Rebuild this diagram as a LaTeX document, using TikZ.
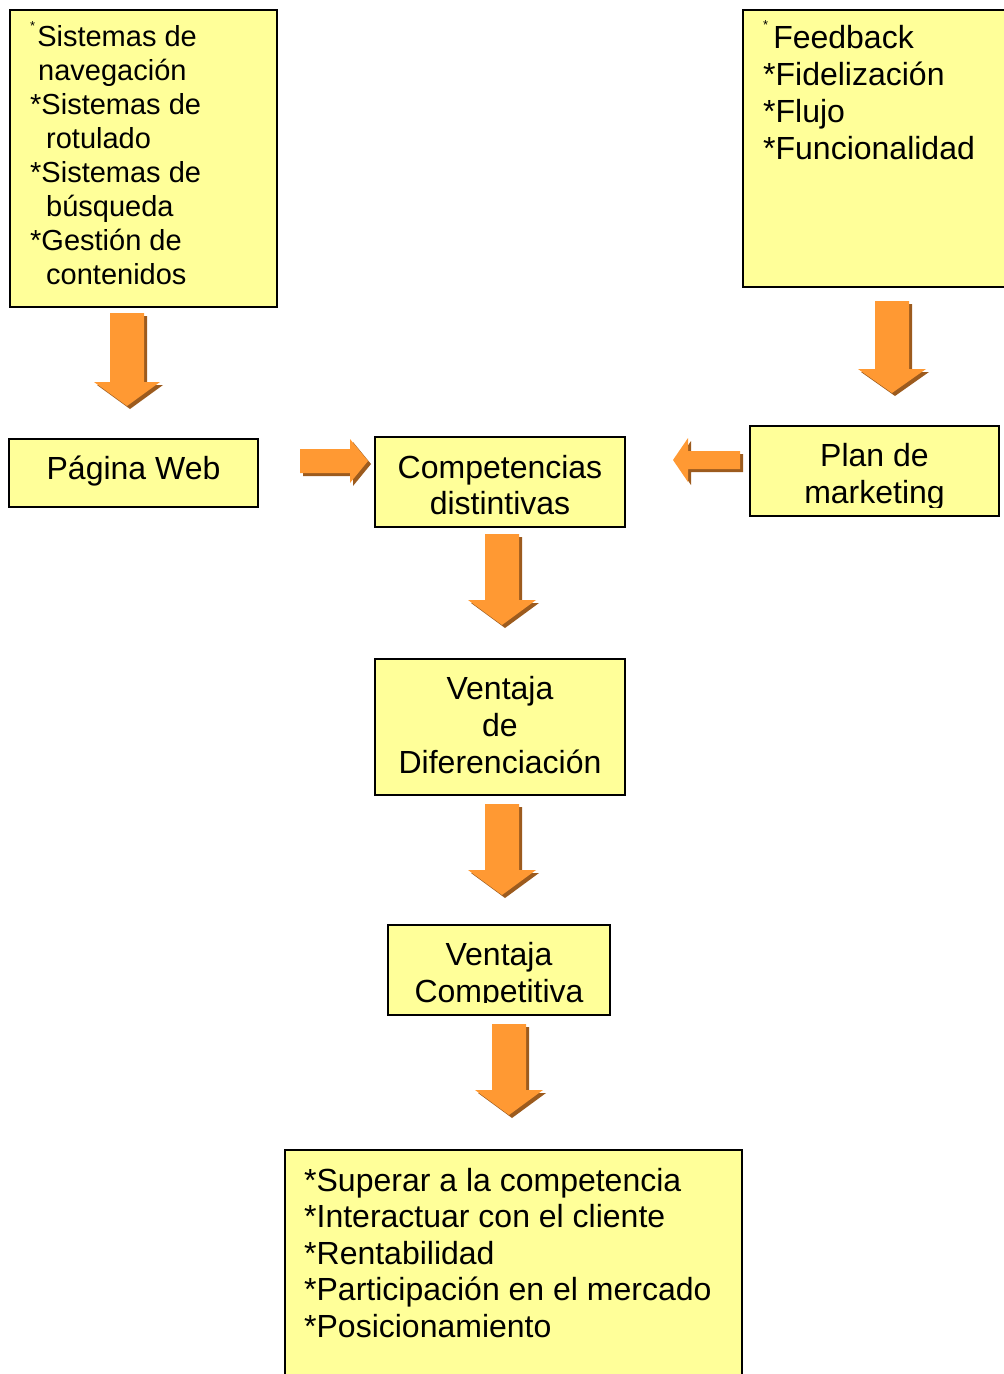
\documentclass[tikz,border=0pt]{standalone}
\usepackage{fontspec}
\setmainfont{Liberation Sans}
\definecolor{boxyellow}{HTML}{FFFF99}
\definecolor{arrorange}{HTML}{FF9933}
\definecolor{arrshade}{HTML}{9C5B1E}
\tikzset{
  panel/.style={draw=black, line width=2pt, fill=boxyellow, inner sep=0pt},
  lbl/.style={inner sep=0pt, align=center, font=\fontsize{32}{36.8}\selectfont},
  list/.style={inner sep=0pt, align=left, anchor=north west, font=\fontsize{32}{37}\selectfont},
}
% block arrow pointing down: centre x, top y, tip y, shaft half-width, head half-width, head length
\newcommand{\downpoly}[6]{({#1-#4},#2) -- ({#1+#4},#2) -- ({#1+#4},{#3-#6}) -- ({#1+#5},{#3-#6}) -- (#1,#3) -- ({#1-#5},{#3-#6}) -- ({#1-#4},{#3-#6}) -- cycle}
\newcommand{\arrdown}[6]{%
  \fill[arrshade, xshift=3pt, yshift=-3pt] \downpoly{#1}{#2}{#3}{#4}{#5}{#6};
  \fill[arrorange] \downpoly{#1}{#2}{#3}{#4}{#5}{#6};}
% horizontal block arrow: tail x, centre y, tip x, shaft half-height, head half-height, signed head length
\newcommand{\sidepoly}[6]{(#1,{#2-#4}) -- ({#3-#6},{#2-#4}) -- ({#3-#6},{#2-#5}) -- (#3,#2) -- ({#3-#6},{#2+#5}) -- ({#3-#6},{#2+#4}) -- (#1,{#2+#4}) -- cycle}
\newcommand{\arrside}[6]{%
  \fill[arrshade, xshift=3pt, yshift=-3pt] \sidepoly{#1}{#2}{#3}{#4}{#5}{#6};
  \fill[arrorange] \sidepoly{#1}{#2}{#3}{#4}{#5}{#6};}
% small raised asterisk opening a list: raise amount (does not change the line height)
\newcommand{\smallstar}[1]{\smash{\fontsize{13}{13}\selectfont\raisebox{#1}{*}}}
\begin{document}
\begin{tikzpicture}[x=1pt, y=-1pt]
\useasboundingbox (0,0) rectangle (1004,1374);
\clip (0,0) rectangle (1004,1374);

% top left: information architecture systems
\node[panel, anchor=north west, minimum width=267pt, minimum height=297pt] (nav) at (9,9) {};
\node[list, font=\fontsize{29}{34.1}\selectfont] (navtxt) at (30,25) {%
  \smallstar{16pt}\hspace{2pt}Sistemas de\\
  \hspace*{8pt}navegación\\
  *Sistemas de\\
  \hspace*{16pt}rotulado\\
  *Sistemas de\\
  \hspace*{16pt}búsqueda\\
  *Gestión de\\
  \hspace*{16pt}contenidos};

% top right: marketing factors
\node[panel, anchor=north west, minimum width=290pt, minimum height=277pt] (fb) at (742,9) {};
\node[list] (fbtxt) at (763,25) {%
  \smallstar{19pt}\hspace{5pt}Feedback\\
  *Fidelización\\
  *Flujo\\
  *Funcionalidad};

% middle row
\node[panel, minimum width=249pt, minimum height=68pt] (web) at (133.5,473) {};
\node[lbl] (webtxt) at (133.5,471) {Página Web};
\node[panel, minimum width=250pt, minimum height=90pt] (comp) at (500,482) {};
\node[lbl] (comptxt) at (500,485) {Competencias\\distintivas};
\node[panel, minimum width=249pt, minimum height=90pt] (plan) at (874.5,471) {};
\begin{scope}
  \clip (752,428) rectangle (997,507);
  \node[lbl] (plantxt) at (874.5,477) {Plan de\\marketing};
\end{scope}

% central column
\node[panel, minimum width=250pt, minimum height=136pt] (dif) at (500,727) {};
\node[lbl] (diftxt) at (500,725) {Ventaja\\de\\Diferenciación};
\node[panel, minimum width=222pt, minimum height=90pt] (vc) at (499,970) {};
\begin{scope}
  \clip (390,927) rectangle (608,1002);
  \node[lbl] (vctxt) at (499,976) {Ventaja\\Competitiva};
\end{scope}

% bottom: results
\node[panel, anchor=north west, minimum width=457pt, minimum height=260pt] (res) at (284,1149) {};
\node[list, font=\fontsize{32}{36.5}\selectfont] (restxt) at (304,1168) {%
  *Superar a la competencia\\
  *Interactuar con el cliente\\
  *Rentabilidad\\
  *Participación en el mercado\\
  *Posicionamiento};

% block arrows
\arrdown{127}{313}{406}{17}{33}{24}
\arrdown{892}{301}{393}{17}{34}{24}
\arrdown{502}{534}{625}{17}{34}{25}
\arrdown{502}{804}{895}{17}{34}{25}
\arrdown{509}{1024}{1115}{17}{34}{25}
\arrside{300}{461}{368}{12}{22}{18}
\arrside{740}{460}{673}{9}{22}{-15}
\end{tikzpicture}
\end{document}
